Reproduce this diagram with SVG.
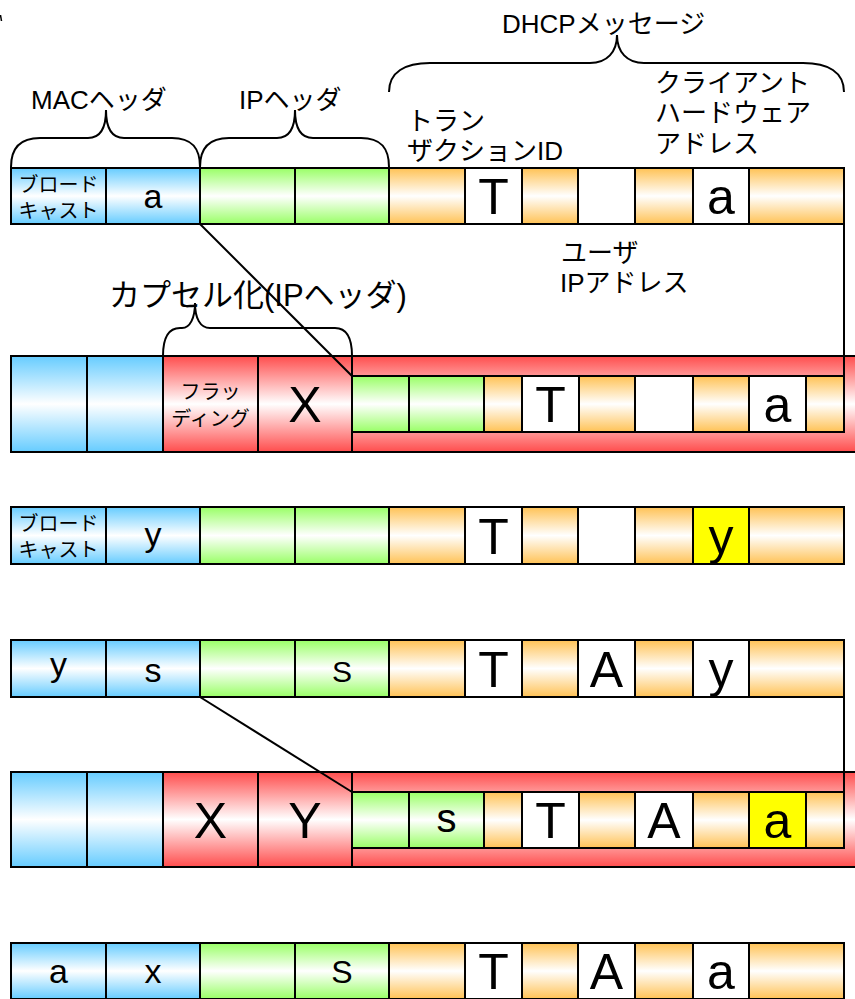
<svg xmlns="http://www.w3.org/2000/svg" width="855" height="999" viewBox="0 0 855 999">
<style>
rect{stroke:#000;stroke-width:2}
rect.bg{stroke:none;fill:#fff}
.b{fill:url(#gb)}.g{fill:url(#gg)}.o{fill:url(#go)}.r{fill:url(#gr)}.w{fill:#fff}.y{fill:#ff0}
text{font-family:"Liberation Sans","Noto Sans CJK JP",sans-serif;fill:#000}
.big{font-size:50px;text-anchor:middle}
.mid{font-size:34px;text-anchor:middle}
.sm{font-size:20px;text-anchor:middle}
.lbl{font-size:26px}
.brace{fill:none;stroke:#000;stroke-width:2}
.conn{stroke:#000;stroke-width:2;fill:none}
</style>
<defs>
<linearGradient id="gb" x1="0" y1="0" x2="0" y2="1"><stop offset="0" stop-color="#66CCFF"/><stop offset="0.5" stop-color="#fff"/><stop offset="1" stop-color="#66CCFF"/></linearGradient>
<linearGradient id="gg" x1="0" y1="0" x2="0" y2="1"><stop offset="0" stop-color="#99FF66"/><stop offset="0.5" stop-color="#fff"/><stop offset="1" stop-color="#99FF66"/></linearGradient>
<linearGradient id="go" x1="0" y1="0" x2="0" y2="1"><stop offset="0" stop-color="#FFC255"/><stop offset="0.5" stop-color="#fff"/><stop offset="1" stop-color="#FFC255"/></linearGradient>
<linearGradient id="gr" x1="0" y1="0" x2="0" y2="1"><stop offset="0" stop-color="#FF4D4D"/><stop offset="0.5" stop-color="#fff"/><stop offset="1" stop-color="#FF4D4D"/></linearGradient>
</defs>
<rect class="bg" width="855" height="999"/>
<path d="M0.5,15 L1.5,21" stroke="#000" stroke-width="1.5"/>

<g id="labels">
<g id="brace-mac"><path class="brace" d="M11,167 C11,148 20,138 40,138 L88,138 C100,138 106,128 106,110 C106,128 112,138 124,138 L172,138 C192,138 200,148 200,167"/><text class="lbl" x="31" y="109">MACヘッダ</text></g>
<g id="brace-ip"><path class="brace" d="M200,167 C200,148 209,138 229,138 L277,138 C289,138 295,128 295,110 C295,128 301,138 313,138 L361,138 C381,138 389,148 389,167"/><text class="lbl" x="239" y="109">IPヘッダ</text></g>
<g id="brace-dhcp"><path class="brace" d="M389,92 C389,72 405,63 430,63 L590,63 C607,63 617,52 617,35 C617,52 627,63 644,63 L803,63 C828,63 844,72 844,92"/><text class="lbl" x="502" y="33">DHCPメッセージ</text></g>
<g id="label-xid"><text class="lbl" x="407" y="130">トラン</text><text class="lbl" x="407" y="160">ザクションID</text></g>
<g id="label-chaddr"><text class="lbl" x="655" y="92">クライアント</text><text class="lbl" x="655" y="122">ハードウェア</text><text class="lbl" x="655" y="153">アドレス</text></g>
<g id="label-yiaddr"><text class="lbl" x="561" y="262">ユーザ</text><text class="lbl" x="560" y="292">IPアドレス</text></g>
<g id="brace-encap"><path class="brace" d="M163,356 C163,338 168,328 180,328 L182,328 C190,328 195,318 195,303 C195,318 200,328 210,328 L335,328 C347,328 352,338 352,356"/><text x="109" y="306" font-size="31">カプセル化(IPヘッダ)</text></g>
</g>

<g id="row1">
<rect class="b" x="11" y="168" width="95" height="56"/><text class="sm" x="58.5" y="192">ブロード</text><text class="sm" x="58.5" y="218">キャスト</text>
<rect class="b" x="106" y="168" width="94" height="56"/><text class="mid" x="153" y="208">a</text>
<rect class="g" x="200" y="168" width="95" height="56"/>
<rect class="g" x="295" y="168" width="94" height="56"/>
<rect class="o" x="389" y="168" width="76" height="56"/>
<rect class="w" x="465" y="168" width="57" height="56"/><text class="big" x="493.5" y="214">T</text>
<rect class="o" x="522" y="168" width="56" height="56"/>
<rect class="w" x="578" y="168" width="57" height="56"/>
<rect class="o" x="635" y="168" width="58" height="56"/>
<rect class="w" x="693" y="168" width="56" height="56"/><text class="big" x="721" y="214">a</text>
<rect class="o" x="749" y="168" width="95" height="56"/>
</g>

<g id="row2">
<rect class="r" x="352" y="356" width="520" height="96"/>
<rect class="b" x="11" y="356" width="76" height="96"/>
<rect class="b" x="87" y="356" width="76" height="96"/>
<rect class="r" x="163" y="356" width="95" height="96"/><text class="sm" x="210.5" y="399">フラッ</text><text class="sm" x="210.5" y="426">ディング</text>
<rect class="r" x="258" y="356" width="94" height="96"/><text class="big" x="305" y="422">X</text>
<rect class="g" x="352" y="376" width="57" height="56"/>
<rect class="g" x="409" y="376" width="75" height="56"/>
<rect class="o" x="484" y="376" width="38" height="56"/>
<rect class="w" x="522" y="376" width="57" height="56"/><text class="big" x="550.5" y="422">T</text>
<rect class="o" x="579" y="376" width="56" height="56"/>
<rect class="w" x="635" y="376" width="58" height="56"/>
<rect class="o" x="693" y="376" width="56" height="56"/>
<rect class="w" x="749" y="376" width="57" height="56"/><text class="big" x="777.5" y="422">a</text>
<rect class="o" x="806" y="376" width="38" height="56"/>
</g>

<g id="row3">
<rect class="b" x="11" y="507" width="95" height="57"/><text class="sm" x="58.5" y="531">ブロード</text><text class="sm" x="58.5" y="557">キャスト</text>
<rect class="b" x="106" y="507" width="94" height="57"/><text class="mid" x="153" y="546">y</text>
<rect class="g" x="200" y="507" width="95" height="57"/>
<rect class="g" x="295" y="507" width="94" height="57"/>
<rect class="o" x="389" y="507" width="76" height="57"/>
<rect class="w" x="465" y="507" width="57" height="57"/><text class="big" x="493.5" y="553.5">T</text>
<rect class="o" x="522" y="507" width="56" height="57"/>
<rect class="w" x="578" y="507" width="57" height="57"/>
<rect class="o" x="635" y="507" width="58" height="57"/>
<rect class="y" x="693" y="507" width="56" height="57"/><text class="big" x="721" y="553.5">y</text>
<rect class="o" x="749" y="507" width="95" height="57"/>
</g>

<g id="row4">
<rect class="b" x="11" y="640" width="95" height="57"/><text class="mid" x="58.5" y="676">y</text>
<rect class="b" x="106" y="640" width="94" height="57"/><text class="mid" x="153" y="682">s</text>
<rect class="g" x="200" y="640" width="95" height="57"/>
<rect class="g" x="295" y="640" width="94" height="57"/><text x="342" y="682" font-size="30" text-anchor="middle">S</text>
<rect class="o" x="389" y="640" width="76" height="57"/>
<rect class="w" x="465" y="640" width="57" height="57"/><text class="big" x="493.5" y="686.5">T</text>
<rect class="o" x="522" y="640" width="56" height="57"/>
<rect class="w" x="578" y="640" width="57" height="57"/><text class="big" x="606.5" y="686.5">A</text>
<rect class="o" x="635" y="640" width="58" height="57"/>
<rect class="w" x="693" y="640" width="56" height="57"/><text class="big" x="721" y="686.5">y</text>
<rect class="o" x="749" y="640" width="95" height="57"/>
</g>

<g id="row5">
<rect class="r" x="352" y="772" width="520" height="95"/>
<rect class="b" x="11" y="772" width="76" height="95"/>
<rect class="b" x="87" y="772" width="76" height="95"/>
<rect class="r" x="163" y="772" width="95" height="95"/><text class="big" x="210.5" y="837.5">X</text>
<rect class="r" x="258" y="772" width="94" height="95"/><text class="big" x="305" y="837.5">Y</text>
<rect class="g" x="352" y="792" width="57" height="56"/>
<rect class="g" x="409" y="792" width="75" height="56"/><text x="446.5" y="832" font-size="40" text-anchor="middle">s</text>
<rect class="o" x="484" y="792" width="38" height="56"/>
<rect class="w" x="522" y="792" width="57" height="56"/><text class="big" x="550.5" y="838">T</text>
<rect class="o" x="579" y="792" width="56" height="56"/>
<rect class="w" x="635" y="792" width="58" height="56"/><text class="big" x="664" y="838">A</text>
<rect class="o" x="693" y="792" width="56" height="56"/>
<rect class="y" x="749" y="792" width="57" height="56"/><text class="big" x="777.5" y="838">a</text>
<rect class="o" x="806" y="792" width="38" height="56"/>
</g>

<g id="row6">
<rect class="b" x="11" y="943" width="95" height="56"/><text class="mid" x="58.5" y="983">a</text>
<rect class="b" x="106" y="943" width="94" height="56"/><text class="mid" x="153" y="983">x</text>
<rect class="g" x="200" y="943" width="95" height="56"/>
<rect class="g" x="295" y="943" width="94" height="56"/><text x="342" y="983" font-size="32" text-anchor="middle">S</text>
<rect class="o" x="389" y="943" width="76" height="56"/>
<rect class="w" x="465" y="943" width="57" height="56"/><text class="big" x="493.5" y="989">T</text>
<rect class="o" x="522" y="943" width="56" height="56"/>
<rect class="w" x="578" y="943" width="57" height="56"/><text class="big" x="606.5" y="989">A</text>
<rect class="o" x="635" y="943" width="58" height="56"/>
<rect class="w" x="693" y="943" width="56" height="56"/><text class="big" x="721" y="989">a</text>
<rect class="o" x="749" y="943" width="95" height="56"/>
</g>

<g id="connectors">
<path class="conn" d="M200,224 L352,376"/>
<path class="conn" d="M844,224 L844,376"/>
<path class="conn" d="M200,697 L352,792"/>
<path class="conn" d="M844,697 L844,792"/>
</g>
</svg>
